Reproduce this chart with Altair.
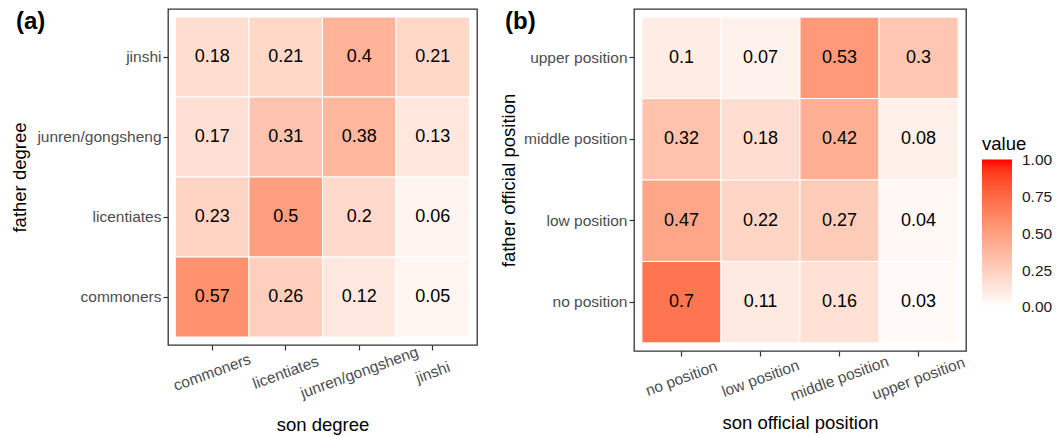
import altair as alt
import pandas as pd

# Panel (a): degree
deg_cats = ["commoners", "licentiates", "junren/gongsheng", "jinshi"]
deg_rows_top_down = ["jinshi", "junren/gongsheng", "licentiates", "commoners"]
deg_values = {
    "jinshi": [0.18, 0.21, 0.4, 0.21],
    "junren/gongsheng": [0.17, 0.31, 0.38, 0.13],
    "licentiates": [0.23, 0.5, 0.2, 0.06],
    "commoners": [0.57, 0.26, 0.12, 0.05],
}

# Panel (b): official position
pos_cats = ["no position", "low position", "middle position", "upper position"]
pos_rows_top_down = ["upper position", "middle position", "low position", "no position"]
pos_values = {
    "upper position": [0.1, 0.07, 0.53, 0.3],
    "middle position": [0.32, 0.18, 0.42, 0.08],
    "low position": [0.47, 0.22, 0.27, 0.04],
    "no position": [0.7, 0.11, 0.16, 0.03],
}

# legend tick positions (ends nudged inside so the labels stay centred on them)
legend_values = [0.0005, 0.25, 0.5, 0.75, 0.9995]

FONT = "Liberation Sans"


def make_df(values, cats):
    rows = []
    for father, vals in values.items():
        for son, v in zip(cats, vals):
            rows.append({"father": father, "son": son, "value": v})
    return pd.DataFrame(rows)


color_scale = alt.Scale(domain=[0, 1], range=["white", "red"], interpolate="lab")


def panel(df, cats, rows_td, xtitle, ytitle, tag, w, h, title_x, title_y_x, tagx):
    base = alt.Chart(df).encode(
        x=alt.X(
            "son:N",
            sort=cats,
            scale=alt.Scale(paddingInner=0, paddingOuter=0.1),
            axis=alt.Axis(
                title=xtitle,
                labelAngle=340,
                labelAlign="center",
                labelBaseline="middle",
                labelPadding=22,
                titleY=title_x,
                titleBaseline="middle",
            ),
        ),
        y=alt.Y(
            "father:N",
            sort=rows_td,
            scale=alt.Scale(paddingInner=0, paddingOuter=0.1),
            axis=alt.Axis(
                title=ytitle,
                labelPadding=2,
                titleX=title_y_x,
                titleBaseline="middle",
            ),
        ),
    )
    rect = base.mark_rect(stroke="white", strokeWidth=1).encode(
        color=alt.Color(
            "value:Q",
            scale=color_scale,
            legend=alt.Legend(
                title="value",
                orient="none",
                legendX=814,
                legendY=126,
                gradientLength=148,
                gradientThickness=30,
                values=legend_values,
                format=".2f",
                labelFont=FONT,
                labelFontSize=15.5,
                labelColor="#1a1a1a",
                labelOffset=10,
                labelOverlap=False,
                titleFont=FONT,
                titleFontSize=18.5,
                titleFontWeight="normal",
                titleColor="black",
                titlePadding=6,
            ),
        )
    )
    text = base.mark_text(font=FONT, fontSize=18, color="black").encode(
        text=alt.Text("value:Q", format=".2~f")
    )
    tagc = alt.Chart(pd.DataFrame({"t": [tag]})).mark_text(
        font=FONT, fontSize=24, fontWeight="bold", align="left", baseline="middle", color="black"
    ).encode(x=alt.value(tagx), y=alt.value(13), text="t:N")
    return alt.layer(rect, text, tagc).properties(width=w, height=h)


pa = panel(make_df(deg_values, deg_cats), deg_cats, deg_rows_top_down,
           "son degree", "father degree", "(a)", 309, 336, 79, -149, -152)
pb = panel(make_df(pos_values, pos_cats), pos_cats, pos_rows_top_down,
           "son official position", "father official position", "(b)", 332, 342, 71, -126, -129)

chart = alt.hconcat(pa, pb, spacing=20).properties(
    padding={"left": 9, "top": 8, "right": 0, "bottom": 0}
).configure_view(
    stroke="#333333", strokeWidth=1.3
).configure_axis(
    labelFont=FONT,
    labelFontSize=15.5,
    labelColor="#4D4D4D",
    tickColor="#333333",
    tickSize=5,
    tickWidth=1.2,
    domain=False,
    grid=False,
    titleFont=FONT,
    titleFontSize=18.5,
    titleFontWeight="normal",
    titleColor="black",
)

chart.save("out.html", embed_options={"renderer": "svg", "actions": False})
